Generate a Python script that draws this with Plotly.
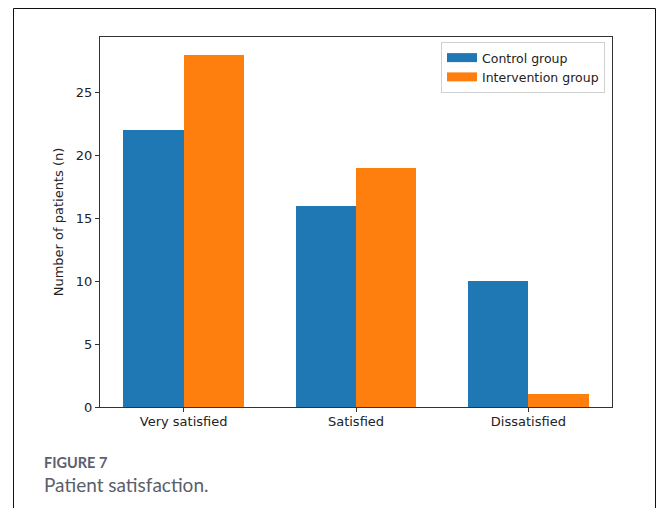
import plotly.graph_objects as go

categories = ["Very satisfied", "Satisfied", "Dissatisfied"]
control = [22, 16, 10]
intervention = [28, 19, 1]
x_pos = [0, 1, 2]
bar_w = 0.35
series_names = ["Control group", "Intervention group"]
series_colors = ["#1f77b4", "#ff7f0e"]

fig = go.Figure()
for vals, off, name, col in [(control, -bar_w / 2, series_names[0], series_colors[0]),
                             (intervention, bar_w / 2, series_names[1], series_colors[1])]:
    fig.add_trace(go.Bar(
        x=[p + off for p in x_pos], y=vals, width=bar_w,
        name=name, marker=dict(color=col, line=dict(width=0)), showlegend=False,
    ))
    # legend proxy: wide patch like matplotlib
    fig.add_trace(go.Scatter(
        x=[None], y=[None], mode="lines", name=name,
        line=dict(color=col, width=9), showlegend=True,
    ))

L, R, T, B = 100, 46, 37, 101
W, H = 658, 508
pw, ph = W - L - R, H - T - B

def px_x(px):
    return (px - L) / pw

def px_y(py):
    return (H - B - py) / ph

axis_font = dict(family="DejaVu Sans", size=13, color="#222")
fig.update_layout(
    width=W, height=H,
    margin=dict(l=L, r=R, t=T, b=B, pad=0),
    paper_bgcolor="white", plot_bgcolor="white",
    barmode="overlay", bargap=0,
    showlegend=True,
    legend=dict(
        x=px_x(605), y=px_y(42), xanchor="right", yanchor="top",
        bgcolor="rgba(255,255,255,0.8)", bordercolor="#d0d0d0", borderwidth=1,
        font=dict(family="DejaVu Sans", size=12.5, color="#222"),
        tracegroupgap=0,
    ),
    xaxis=dict(
        range=[-0.485, 2.485], tickmode="array", tickvals=x_pos, ticktext=categories,
        showline=True, linecolor="#333", linewidth=1, mirror=True,
        ticks="outside", ticklen=4, tickcolor="#333", showgrid=False, zeroline=False,
        tickfont=axis_font, ticklabelstandoff=-2,
    ),
    yaxis=dict(
        range=[0, 29.4], tickvals=[0, 5, 10, 15, 20, 25],
        showline=True, linecolor="#333", linewidth=1, mirror=True,
        ticks="outside", ticklen=4, tickcolor="#333", showgrid=False, zeroline=False,
        tickfont=axis_font,
        title=dict(text="Number of patients (n)", font=dict(family="DejaVu Sans", size=13, color="#222"), standoff=9),
    ),
    shapes=[dict(
        type="rect", xref="paper", yref="paper",
        x0=px_x(13.5), x1=px_x(655.5), y0=px_y(520), y1=px_y(8.5),
        line=dict(color="#111", width=1), fillcolor="rgba(0,0,0,0)", layer="above",
    )],
    annotations=[
        dict(text="<b>FIGURE 7</b>", xref="paper", yref="paper",
             x=px_x(42), y=px_y(462), xanchor="left", yanchor="middle", showarrow=False,
             font=dict(family="Lato", size=14.5, color="#5c6070")),
        dict(text="Patient satisfaction.", xref="paper", yref="paper",
             x=px_x(42), y=px_y(484), xanchor="left", yanchor="middle", showarrow=False,
             font=dict(family="Lato", size=19, color="#5a5e6a")),
    ],
)

fig.write_html("out.html")
